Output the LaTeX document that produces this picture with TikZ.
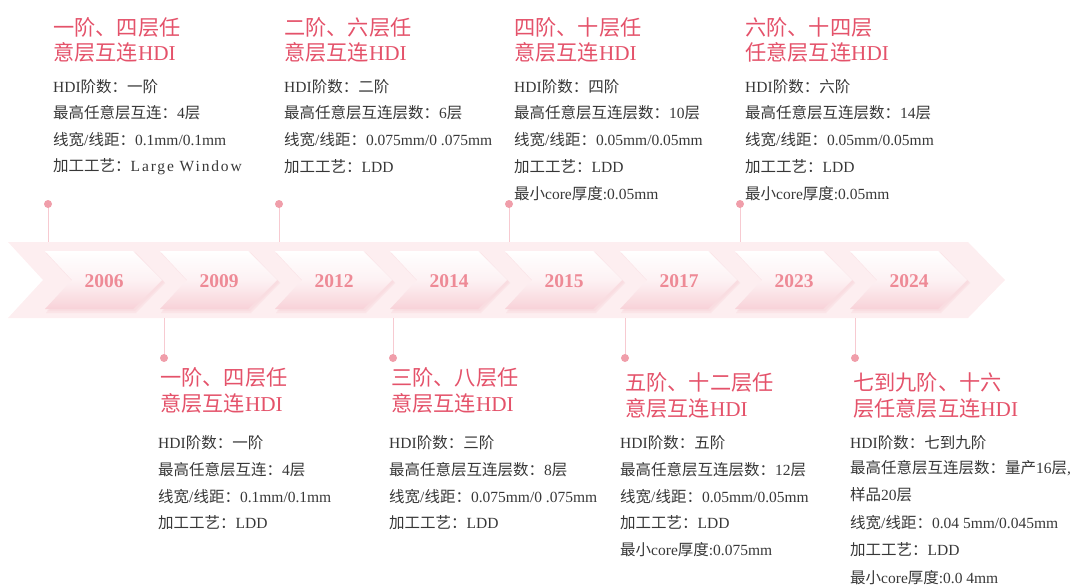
\documentclass[tikz,border=0pt]{standalone}
\usepackage{fontspec}
\setmainfont{Noto Sans CJK SC}
\newfontfamily\latf{Liberation Serif}
\newfontfamily\latw[LetterSpace=12]{Liberation Serif}
\newcommand\lat[1]{{\latf #1}}
\definecolor{titlec}{RGB}{228,82,106}
\definecolor{txtc}{RGB}{55,55,55}
\definecolor{pinc}{RGB}{240,158,170}
\definecolor{pinl}{RGB}{247,202,209}
\definecolor{bandc}{RGB}{253,238,240}
\definecolor{chevb}{RGB}{248,210,216}
\definecolor{yearc}{RGB}{238,138,150}
\begin{document}
\begin{tikzpicture}[x=1pt,y=-1pt,
  titlet/.style={anchor=west,inner sep=0pt,font=\fontsize{21.2}{24}\selectfont,text=titlec},
  det/.style={anchor=west,inner sep=0pt,font=\fontsize{15.5}{18}\selectfont,text=txtc},
  yearlab/.style={inner sep=0pt,font=\latf\bfseries\fontsize{19.5}{22}\selectfont,text=yearc},
  pindot/.style={circle,fill=pinc,inner sep=0pt,minimum size=8pt},
  pinline/.style={draw=pinl,line width=1pt}]
\useasboundingbox (0,0) rectangle (1079,586);

% band
\fill[bandc] (8,242) -- (968,242) -- (1005,280) -- (968,318) -- (8,318) -- (43,280) -- cycle;

% chevrons
\foreach \i/\yr in {0/2006,1/2009,2/2012,3/2014,4/2015,5/2017,6/2023,7/2024}{
  \pgfmathsetmacro\xo{45+115*\i}
  \fill[chevb,opacity=0.35] (\xo+1,253) -- (\xo+91,253) -- (\xo+120,283) -- (\xo+91,313) -- (\xo+1,313) -- (\xo+29,283) -- cycle;
  \fill[chevb,opacity=0.35] (\xo+2,252) -- (\xo+90,252) -- (\xo+119,282) -- (\xo+90,311) -- (\xo+2,311) -- (\xo+29,282) -- cycle;
  \shade[top color=white,bottom color=chevb,middle color=white!70!chevb] (\xo,251) -- (\xo+88,251) -- (\xo+117,280) -- (\xo+88,309) -- (\xo,309) -- (\xo+27,280) -- cycle;
  \node[yearlab] (y\yr) at (\xo+59,281) {\yr};
}

% top pins
\foreach \k/\px in {1/48,2/279,3/509,4/740}{
  \coordinate (tb\k) at (\px,242);
  \draw[pinline] (\px,204) -- (tb\k);
  \node[pindot] (tp\k) at (\px,204) {};
}
% bottom pins
\foreach \k/\px in {1/164,2/393,3/625,4/855}{
  \coordinate (bb\k) at (\px,318);
  \draw[pinline] (bb\k) -- (\px,358);
  \node[pindot] (bp\k) at (\px,358) {};
}

% top block 1
\node[titlet] (t1a) at (53,27) {一阶、四层任};
\node[titlet] (t1b) at (53,52) {意层互连\lat{HDI}};
\node[det] (t1c) at (53,87) {\lat{HDI}阶数：一阶};
\node[det] (t1d) at (53,113) {最高任意层互连：\lat{4}层};
\node[det] (t1e) at (53,140) {线宽\lat{/}线距：\lat{0.1mm/0.1mm}};
\node[det] (t1f) at (53,167) {加工工艺：{\latw Large Window}};

% top block 2
\node[titlet] (t2a) at (284,27) {二阶、六层任};
\node[titlet] (t2b) at (284,52) {意层互连\lat{HDI}};
\node[det] (t2c) at (284,87) {\lat{HDI}阶数：二阶};
\node[det] (t2d) at (284,113) {最高任意层互连层数：\lat{6}层};
\node[det] (t2e) at (284,140) {线宽\lat{/}线距：\lat{0.075mm/0 .075mm}};
\node[det] (t2f) at (284,167) {加工工艺：\lat{LDD}};

% top block 3
\node[titlet] (t3a) at (514,27) {四阶、十层任};
\node[titlet] (t3b) at (514,52) {意层互连\lat{HDI}};
\node[det] (t3c) at (514,87) {\lat{HDI}阶数：四阶};
\node[det] (t3d) at (514,113) {最高任意层互连层数：\lat{10}层};
\node[det] (t3e) at (514,140) {线宽\lat{/}线距：\lat{0.05mm/0.05mm}};
\node[det] (t3f) at (514,167) {加工工艺：\lat{LDD}};
\node[det] (t3g) at (514,194) {最小\lat{core}厚度\lat{:0.05mm}};

% top block 4
\node[titlet] (t4a) at (745,27) {六阶、十四层};
\node[titlet] (t4b) at (745,52) {任意层互连\lat{HDI}};
\node[det] (t4c) at (745,87) {\lat{HDI}阶数：六阶};
\node[det] (t4d) at (745,113) {最高任意层互连层数：\lat{14}层};
\node[det] (t4e) at (745,140) {线宽\lat{/}线距：\lat{0.05mm/0.05mm}};
\node[det] (t4f) at (745,167) {加工工艺：\lat{LDD}};
\node[det] (t4g) at (745,194) {最小\lat{core}厚度\lat{:0.05mm}};

% bottom block 1
\node[titlet] (b1a) at (160,377) {一阶、四层任};
\node[titlet] (b1b) at (160,403) {意层互连\lat{HDI}};
\node[det] (b1c) at (158,443) {\lat{HDI}阶数：一阶};
\node[det] (b1d) at (158,470) {最高任意层互连：\lat{4}层};
\node[det] (b1e) at (158,497) {线宽\lat{/}线距：\lat{0.1mm/0.1mm}};
\node[det] (b1f) at (158,523) {加工工艺：\lat{LDD}};

% bottom block 2
\node[titlet] (b2a) at (391,377) {三阶、八层任};
\node[titlet] (b2b) at (391,403) {意层互连\lat{HDI}};
\node[det] (b2c) at (389,443) {\lat{HDI}阶数：三阶};
\node[det] (b2d) at (389,470) {最高任意层互连层数：\lat{8}层};
\node[det] (b2e) at (389,497) {线宽\lat{/}线距：\lat{0.075mm/0 .075mm}};
\node[det] (b2f) at (389,523) {加工工艺：\lat{LDD}};

% bottom block 3
\node[titlet] (b3a) at (625,382) {五阶、十二层任};
\node[titlet] (b3b) at (625,408) {意层互连\lat{HDI}};
\node[det] (b3c) at (620,443) {\lat{HDI}阶数：五阶};
\node[det] (b3d) at (620,470) {最高任意层互连层数：\lat{12}层};
\node[det] (b3e) at (620,497) {线宽\lat{/}线距：\lat{0.05mm/0.05mm}};
\node[det] (b3f) at (620,523) {加工工艺：\lat{LDD}};
\node[det] (b3g) at (620,550) {最小\lat{core}厚度\lat{:0.075mm}};

% bottom block 4
\node[titlet] (b4a) at (853,382) {七到九阶、十六};
\node[titlet] (b4b) at (853,408) {层任意层互连\lat{HDI}};
\node[det] (b4c) at (850,443) {\lat{HDI}阶数：七到九阶};
\node[det] (b4d) at (850,468) {最高任意层互连层数：量产\lat{16}层\lat{,}};
\node[det] (b4e) at (850,495) {样品\lat{20}层};
\node[det] (b4f) at (850,523) {线宽\lat{/}线距：\lat{0.04 5mm/0.045mm}};
\node[det] (b4g) at (850,550) {加工工艺：\lat{LDD}};
\node[det] (b4h) at (850,578) {最小\lat{core}厚度\lat{:0.0 4mm}};
\end{tikzpicture}
\end{document}
